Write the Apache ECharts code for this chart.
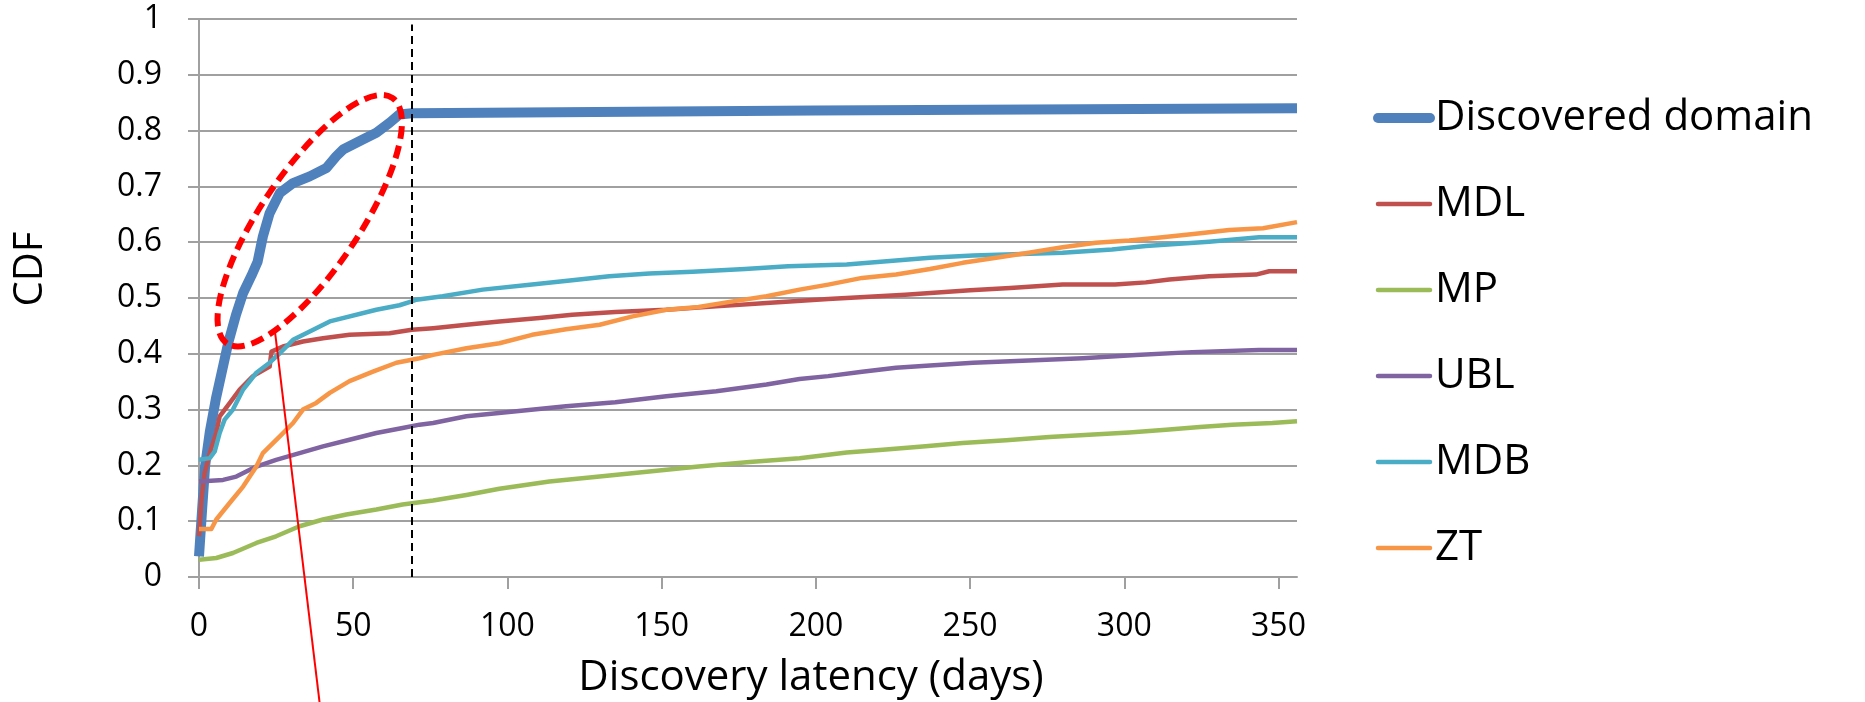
<!DOCTYPE html>
<html>
<head>
<meta charset="utf-8">
<title>Discovery latency CDF</title>
<script src="https://cdn.jsdelivr.net/npm/echarts@6.0.0/dist/echarts.min.js"></script>
<style>
  html, body { margin: 0; padding: 0; background: #fff; }
  #chart { width: 1865px; height: 702px; }
</style>
</head>
<body>
<div id="chart"></div>
<script>
// values: [days, CDF]
const discovered = [
  [0, 0.037], [1, 0.12], [2, 0.2], [3.5, 0.26], [5.5, 0.32], [7.5, 0.37], [9.5, 0.42],
  [12, 0.47], [14.3, 0.509], [17, 0.54], [19, 0.565], [20.7, 0.61], [22.9, 0.652],
  [26.2, 0.688], [30.5, 0.706], [35.9, 0.718], [41.3, 0.733], [44.5, 0.754], [46.7, 0.766],
  [53.1, 0.784], [57.5, 0.796], [61.8, 0.814], [65, 0.829], [69, 0.831], [200, 0.836], [356, 0.84]
]
const mdl = [
  [0, 0.073], [0.8, 0.139], [1.8, 0.186], [3.5, 0.222], [5.6, 0.258], [6.7, 0.288], [10, 0.312],
  [13.2, 0.336], [17.5, 0.36], [22.9, 0.377], [23.5, 0.404], [27.2, 0.413], [33.7, 0.422],
  [40.2, 0.428], [48.8, 0.434], [61.8, 0.437], [69, 0.443], [75.9, 0.446], [86.7, 0.452],
  [97.4, 0.458], [110.4, 0.464], [121, 0.47], [135, 0.475], [151.5, 0.479], [167.7, 0.485],
  [184, 0.491], [204, 0.498], [229, 0.506], [250, 0.514], [263, 0.518], [280, 0.524],
  [297, 0.524], [307, 0.528], [314.6, 0.533], [327.5, 0.539], [342.7, 0.542], [347, 0.548], [356, 0.548]
]
const mp = [
  [0, 0.031], [5.6, 0.034], [11, 0.043], [18.6, 0.061], [25, 0.073], [32.6, 0.091], [40.2, 0.103],
  [47.8, 0.112], [57.5, 0.121], [66, 0.13], [75.9, 0.137], [86.7, 0.147], [97.4, 0.158],
  [113.6, 0.171], [129.9, 0.18], [146, 0.189], [162, 0.198], [178.5, 0.206], [194.7, 0.213],
  [210, 0.223], [221.7, 0.228], [234.6, 0.234], [247.6, 0.24], [261.7, 0.245], [275.7, 0.251],
  [288.6, 0.255], [301.6, 0.259], [313.5, 0.264], [324.5, 0.269], [335, 0.273], [348, 0.276], [356, 0.279]
]
const ubl = [
  [0, 0.171], [7.8, 0.174], [12.1, 0.18], [18.6, 0.198], [25, 0.21], [32.6, 0.222], [40.2, 0.234],
  [48.8, 0.246], [57.5, 0.258], [66, 0.267], [71.5, 0.273], [75.9, 0.276], [86.7, 0.288],
  [102.9, 0.297], [119, 0.306], [135, 0.313], [151.5, 0.324], [167.7, 0.333], [184, 0.345],
  [194.7, 0.355], [204, 0.36], [215, 0.368], [226, 0.375], [237, 0.379], [251, 0.384],
  [269, 0.388], [286.5, 0.392], [303.8, 0.398], [322, 0.403], [343.7, 0.407], [356, 0.407]
]
const mdb = [
  [0, 0.21], [3.5, 0.213], [5.1, 0.225], [6.7, 0.258], [8.3, 0.282], [11, 0.3], [14.3, 0.336],
  [18.6, 0.366], [22.9, 0.384], [26.2, 0.401], [30.5, 0.425], [35.9, 0.44], [42.4, 0.458],
  [57.5, 0.479], [65, 0.487], [69, 0.494], [70.5, 0.497], [79, 0.503], [92, 0.515], [108, 0.524],
  [121, 0.532], [133, 0.539], [146, 0.544], [160, 0.547], [177, 0.552], [191, 0.557], [210, 0.56],
  [223, 0.566], [237, 0.572], [251, 0.576], [280, 0.581], [296, 0.587], [307, 0.593],
  [327.5, 0.601], [343.7, 0.609], [356, 0.609]
]
const zt = [
  [0, 0.086], [4, 0.086], [5.6, 0.103], [10, 0.133], [14.3, 0.162], [18.6, 0.198], [20.7, 0.222],
  [26.2, 0.252], [30.5, 0.276], [33.7, 0.3], [38, 0.312], [42.4, 0.33], [48.8, 0.351],
  [56.4, 0.368], [64, 0.384], [71.5, 0.392], [75.9, 0.398], [86.7, 0.41], [97.4, 0.419],
  [108, 0.434], [119, 0.444], [129.9, 0.452], [140.6, 0.467], [151.5, 0.479], [162, 0.484],
  [173, 0.494], [184, 0.503], [194.7, 0.515], [204, 0.524], [215, 0.536], [226, 0.542],
  [237, 0.552], [247.6, 0.563], [258.4, 0.572], [269, 0.581], [280, 0.591], [290.8, 0.599],
  [301.6, 0.603], [312.4, 0.609], [323.2, 0.615], [334, 0.622], [345, 0.625], [356, 0.636]
]

const seriesNames = ['Discovered domain', 'MDL', 'MP', 'UBL', 'MDB', 'ZT']
const seriesData = [discovered, mdl, mp, ubl, mdb, zt]
const colors = ['#4F81BD', '#C0504D', '#9BBB59', '#8064A2', '#4BACC6', '#F79646']
const lineWidths = [10, 4.5, 4.5, 4.5, 4.5, 4.5]

const xTicks = [0, 50, 100, 150, 200, 250, 300, 350]
const xMax = 356
const cutoffDay = 69

const font = '"Open Sans", "Noto Sans", sans-serif'
const gridColor = '#A0A0A0'

const chart = echarts.init(document.getElementById('chart'))

const series = seriesNames.map((name, i) => ({
  name,
  type: 'line',
  data: seriesData[i],
  symbol: 'none',
  smooth: false,
  lineStyle: { color: colors[i], width: lineWidths[i], join: 'round' },
  itemStyle: { color: colors[i] },
  z: 3,
}))

// dashed vertical marker at the cutoff day
series[0].markLine = {
  silent: true,
  symbol: ['none', 'none'],
  label: { show: false },
  lineStyle: { color: '#000', type: [8, 5], width: 2 },
  data: [[{ coord: [cutoffDay, 0] }, { coord: [cutoffDay, 0.99] }]],
}

chart.setOption({
  animation: false,
  backgroundColor: '#fff',
  grid: { left: 199, right: 568, top: 19, bottom: 125, containLabel: false },
  legend: {
    orient: 'vertical',
    left: 1373,
    top: 96,
    padding: 0,
    itemWidth: 52,
    itemHeight: 14,
    itemGap: 42,
    lineStyle: { width: 'inherit', cap: 'round' },
    // hide the marker dot that line series put in the middle of the legend icon
    itemStyle: { opacity: 0 },
    textStyle: { fontFamily: font, fontSize: 42, lineHeight: 44, color: '#000' },
    data: seriesNames,
  },
  xAxis: {
    type: 'value',
    min: 0,
    max: xMax,
    axisLine: { lineStyle: { color: gridColor, width: 2 } },
    axisTick: { show: true, length: 12, customValues: xTicks, lineStyle: { color: gridColor, width: 2 } },
    axisLabel: { customValues: xTicks, margin: 34, fontFamily: font, fontSize: 32, color: '#000' },
    splitLine: { show: false },
  },
  yAxis: {
    type: 'value',
    min: 0,
    max: 1,
    interval: 0.1,
    axisLine: { show: true, lineStyle: { color: gridColor, width: 2 } },
    axisTick: { show: true, length: 11, lineStyle: { color: gridColor, width: 2 } },
    axisLabel: { margin: 37, fontFamily: font, fontSize: 32, color: '#000' },
    splitLine: { lineStyle: { color: gridColor, width: 2 } },
  },
  series,
})

// annotations: dashed ellipse around the early part of the curve and a pointer line
const ellCenter = chart.convertToPixel({ gridIndex: 0 }, [35.9, 0.6385])
const lineStart = chart.convertToPixel({ gridIndex: 0 }, [24.5, 0.446])
const lineEnd = chart.convertToPixel({ gridIndex: 0 }, [39.1, -0.225])

chart.setOption({
  graphic: [
    {
      type: 'ellipse',
      x: ellCenter[0],
      y: ellCenter[1],
      rotation: 56 * Math.PI / 180,
      shape: { cx: 0, cy: 0, rx: 148, ry: 49 },
      style: { fill: null, stroke: '#FF0000', lineWidth: 6, lineDash: [13, 7] },
      z: 100,
      silent: true,
    },
    {
      type: 'line',
      shape: { x1: lineStart[0], y1: lineStart[1], x2: lineEnd[0], y2: lineEnd[1] },
      style: { stroke: '#FF0000', lineWidth: 2 },
      z: 100,
      silent: true,
    },
    {
      type: 'text',
      x: 31,
      y: 269,
      rotation: Math.PI / 2,
      style: { text: 'CDF', fontFamily: font, fontSize: 40, fill: '#000', align: 'center', verticalAlign: 'middle' },
    },
    {
      type: 'text',
      x: 811,
      y: 678,
      style: { text: 'Discovery latency (days)', fontFamily: font, fontSize: 42, fill: '#000', align: 'center', verticalAlign: 'middle' },
    },
  ],
})
</script>
</body>
</html>
